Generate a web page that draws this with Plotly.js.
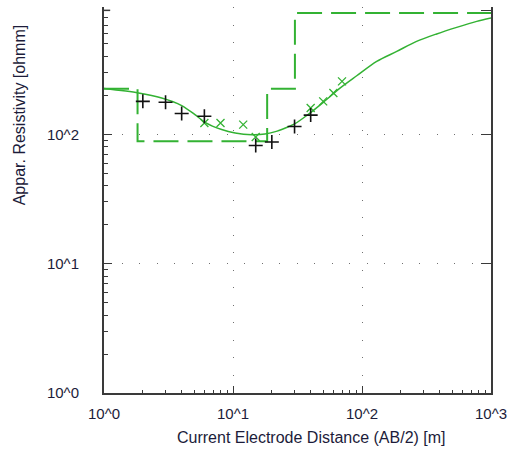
<!DOCTYPE html>
<html>
<head>
<meta charset="utf-8">
<script src="https://cdn.plot.ly/plotly-3.0.1.min.js"></script>
<style>html,body{margin:0;padding:0;background:#fff;}#chart{width:512px;height:452px;}</style>
</head>
<body>
<div id="chart"></div>
<script>
// Model curve (calculated apparent resistivity)
const curveX = [1.0, 1.85, 2.8, 4.0, 5.07, 6.07, 8.17, 10.4, 14.0, 17.7, 22.0, 26.0, 30.2, 37.3, 50.1, 67.5, 91, 130, 186, 265, 379, 542, 775, 1000];
const curveY = [226, 209, 191, 167, 142, 124, 109, 102.5, 99.5, 100.7, 106, 113, 121, 140, 177, 228, 284, 367, 438, 524, 598, 672, 748, 794];

// Layered model (step)
const layerX = [1.0, 1.82, 1.82, 18.4, 18.4, 30.2, 30.2, 1000];
const layerY = [225, 225, 88.3, 88.3, 225, 225, 869, 869];

// Observed data
const obsX = [2, 3, 4, 6, 15, 20, 30, 40];
const obsY = [180, 177, 145, 138, 82, 87.4, 115, 141];

// Calculated at data points
const calcX = [6, 8, 12, 15, 40, 50, 60, 70];
const calcY = [122.5, 122.5, 119, 95.5, 160, 180, 209, 257];

const xTickVals = [1, 10, 100, 1000];
const xTickText = ['10^0', '10^1', '10^2', '10^3'];
const yTickVals = [1, 10, 100];
const yTickText = ['10^0', '10^1', '10^2'];

const green = '#33b233';
const axisCol = '#3a3a3a';
const txtCol = '#1c1c3a';
const fontFam = 'Arial, "Liberation Sans", sans-serif';

const minorVals = [];
for (let d = 1; d <= 100; d *= 10) for (let k = 2; k <= 9; k++) minorVals.push(k * d);

const traces = [
  {x: layerX, y: layerY, mode: 'lines', line: {color: green, width: 2, dash: '25px,9px'}, hoverinfo: 'skip'},
  {x: curveX, y: curveY, mode: 'lines', line: {color: green, width: 1.5, shape: 'spline', smoothing: 0.8}},
  {x: calcX, y: calcY, mode: 'markers', marker: {symbol: 'x-thin', size: 8, line: {color: green, width: 1.3}}},
  {x: obsX, y: obsY, mode: 'markers', marker: {symbol: 'cross-thin', size: 10, line: {color: '#111', width: 1.6}}}
];

const yRange = [0, 2.985];
const layout = {
  width: 512, height: 452,
  margin: {l: 104, r: 21, t: 7, b: 59},
  paper_bgcolor: '#fff', plot_bgcolor: '#fff',
  showlegend: false,
  font: {family: fontFam, size: 15, color: txtCol},
  xaxis: {
    type: 'log', range: [0, 3],
    tickmode: 'array', tickvals: xTickVals, ticktext: xTickText,
    ticks: 'inside', ticklen: 7, tickwidth: 1, tickcolor: axisCol,
    showline: true, linecolor: axisCol, linewidth: 2,
    showgrid: true, gridcolor: '#707070', gridwidth: 1, griddash: '1px,16.5px',
    zeroline: false, ticklabelstandoff: 6,
    minor: {tickmode: 'array', tickvals: minorVals, ticks: 'inside', ticklen: 3, tickcolor: axisCol, showgrid: false},
    tickfont: {size: 15, color: txtCol}
  },
  yaxis: {
    type: 'log', range: yRange,
    tickmode: 'array', tickvals: yTickVals, ticktext: yTickText,
    ticks: 'inside', ticklen: 8, tickwidth: 1, tickcolor: axisCol,
    showline: true, linecolor: axisCol, linewidth: 2,
    showgrid: true, gridcolor: '#707070', gridwidth: 1, griddash: '1px,16.5px',
    zeroline: false, ticklabelstandoff: 20,
    minor: {tickmode: 'array', tickvals: minorVals, ticks: 'inside', ticklen: 4, tickcolor: axisCol, showgrid: false},
    tickfont: {size: 15, color: txtCol}
  },
  yaxis2: {
    type: 'log', range: yRange, overlaying: 'y', side: 'right',
    tickmode: 'array', tickvals: [10, 100, 910], showticklabels: false,
    ticks: 'inside', ticklen: 10, tickwidth: 1.5, tickcolor: axisCol,
    showline: true, linecolor: axisCol, linewidth: 2,
    showgrid: false, zeroline: false
  },
  annotations: [
    {text: 'Appar. Resistivity [ohmm]', xref: 'paper', yref: 'paper', x: -0.219, y: 0.72, textangle: -90,
     showarrow: false, font: {size: 16, color: txtCol, family: fontFam}, xanchor: 'center', yanchor: 'middle'},
    {text: 'Current Electrode Distance (AB/2) [m]', xref: 'paper', yref: 'paper', x: 0.535, y: -0.116,
     showarrow: false, font: {size: 16, color: txtCol, family: fontFam}, xanchor: 'center', yanchor: 'middle'}
  ],
  shapes: [
    {type: 'line', xref: 'paper', yref: 'y', x0: 0, x1: 0.016, y0: 910, y1: 910, line: {color: axisCol, width: 1.5}}
  ]
};

// invisible trace so the right-hand axis renders
traces.push({x: [1], y: [1], yaxis: 'y2', mode: 'markers', marker: {opacity: 0}, hoverinfo: 'skip'});

Plotly.newPlot('chart', traces, layout, {staticPlot: true, displayModeBar: false});
</script>
</body>
</html>
